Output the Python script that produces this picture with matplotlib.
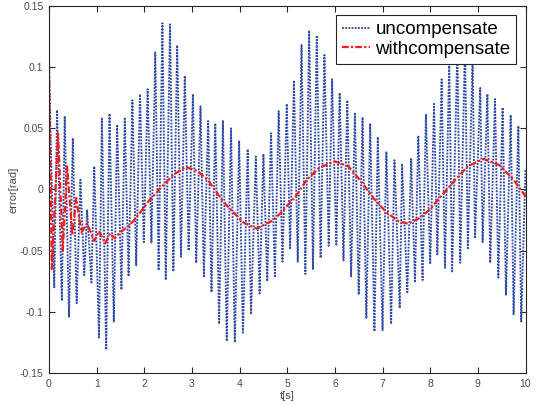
import numpy as np
import matplotlib
matplotlib.use("Agg")
import matplotlib.pyplot as plt

# ---- data ----
# uncompensated error: upper and lower turning points (time [s], value [rad])
unc_up_t = [0.00, 0.17, 0.33, 0.50, 0.66, 0.80, 0.95, 1.11, 1.27, 1.43, 1.59, 1.75, 1.91, 2.07,
            2.23, 2.38, 2.54, 2.69, 2.85, 3.02, 3.18, 3.34, 3.49, 3.65, 3.82, 3.99, 4.17, 4.34,
            4.50, 4.66, 4.82, 4.99, 5.14, 5.30, 5.46, 5.62, 5.78, 5.94, 6.10, 6.26, 6.42, 6.58,
            6.74, 6.90, 7.08, 7.25, 7.41, 7.60, 7.75, 7.91, 8.08, 8.24, 8.40, 8.57, 8.73, 8.89,
            9.05, 9.20, 9.36, 9.52, 9.69, 9.85, 10.00]
unc_up_v = [0.100, 0.065, 0.060, 0.042, 0.008, -0.017, 0.019, 0.058, 0.062, 0.053, 0.058, 0.073,
            0.078, 0.082, 0.112, 0.136, 0.135, 0.118, 0.093, 0.078, 0.068, 0.056, 0.054, 0.056,
            0.050, 0.040, 0.033, 0.027, 0.029, 0.046, 0.064, 0.070, 0.089, 0.118, 0.130, 0.126,
            0.110, 0.090, 0.079, 0.073, 0.062, 0.059, 0.054, 0.043, 0.031, 0.024, 0.021, 0.025,
            0.044, 0.061, 0.070, 0.090, 0.105, 0.115, 0.118, 0.108, 0.083, 0.078, 0.074, 0.067,
            0.061, 0.052, 0.017]
unc_lo_t = [0.11, 0.27, 0.42, 0.58, 0.74, 0.89, 1.05, 1.20, 1.36, 1.52, 1.67, 1.83, 1.99, 2.15,
            2.30, 2.45, 2.61, 2.77, 2.93, 3.09, 3.25, 3.41, 3.57, 3.73, 3.90, 4.07, 4.24, 4.42,
            4.58, 4.74, 4.90, 5.06, 5.22, 5.38, 5.54, 5.70, 5.87, 6.03, 6.18, 6.34, 6.50, 6.66,
            6.83, 7.00, 7.18, 7.36, 7.52, 7.68, 7.84, 8.00, 8.15, 8.31, 8.46, 8.63, 8.79, 8.94,
            9.10, 9.26, 9.43, 9.59, 9.75, 9.91]
unc_lo_v = [-0.080, -0.091, -0.104, -0.093, -0.070, -0.076, -0.121, -0.131, -0.108, -0.082,
            -0.071, -0.062, -0.043, -0.044, -0.066, -0.074, -0.067, -0.055, -0.050, -0.060,
            -0.071, -0.084, -0.110, -0.124, -0.125, -0.117, -0.102, -0.085, -0.075, -0.071,
            -0.059, -0.048, -0.059, -0.069, -0.065, -0.056, -0.046, -0.045, -0.058, -0.071,
            -0.086, -0.105, -0.116, -0.115, -0.110, -0.097, -0.084, -0.076, -0.074, -0.061,
            -0.053, -0.064, -0.067, -0.060, -0.049, -0.040, -0.043, -0.060, -0.072, -0.086,
            -0.102, -0.108]

# compensated error (time [s], value [rad])
cmp_t = [0.00, 0.06, 0.19, 0.29, 0.38, 0.49, 0.57, 0.68, 0.80, 0.95, 1.05, 1.18, 1.28, 1.38,
         1.49, 1.70, 1.91, 2.08, 2.36, 2.61, 2.87, 3.12, 3.35, 3.62, 3.73, 4.08, 4.36, 4.71,
         4.87, 5.07, 5.17, 5.41, 5.68, 6.00, 6.28, 6.52, 6.83, 7.09, 7.34, 7.54, 7.79, 8.00,
         8.17, 8.53, 8.79, 9.12, 9.45, 9.75, 9.99, 10.00]
cmp_v = [0.100, -0.065, 0.046, -0.050, 0.019, -0.037, -0.007, -0.035, -0.028, -0.042, -0.034,
         -0.044, -0.036, -0.040, -0.035, -0.029, -0.019, -0.010, 0.002, 0.012, 0.0185, 0.015,
         0.007, -0.008, -0.013, -0.027, -0.032, -0.025, -0.019, -0.010, -0.006, 0.008, 0.018,
         0.023, 0.019, 0.008, -0.008, -0.019, -0.026, -0.028, -0.023, -0.016, -0.008, 0.008,
         0.019, 0.025, 0.020, 0.008, -0.005, -0.006]

x_ticks = [0, 1, 2, 3, 4, 5, 6, 7, 8, 9, 10]
y_ticks = [-0.15, -0.1, -0.05, 0, 0.05, 0.1, 0.15]
y_tick_labels = ["-0.15", "-0.1", "-0.05", "0", "0.05", "0.1", "0.15"]

# merge turning points of the uncompensated trace in time order
unc_t = np.array(unc_up_t + unc_lo_t)
unc_v = np.array(unc_up_v + unc_lo_v)
order = np.argsort(unc_t, kind="stable")
unc_t, unc_v = unc_t[order], unc_v[order]

plt.rcParams['font.family'] = ['Liberation Sans', 'DejaVu Sans']

fig = plt.figure(figsize=(5.36, 4.05), dpi=100)
ax = fig.add_axes([49 / 536, (405 - 373) / 405, (525.5 - 49) / 536, (373 - 6) / 405])

ax.plot(unc_t, unc_v, color='#2d4aa6', lw=1.35, linestyle=(0, (1.0, 0.7)),
        label='uncompensate')
ax.plot(cmp_t, cmp_v, color='#ff1a1a', lw=1.6, linestyle=(0, (3, 1, 1, 1)),
        label='withcompensate')

ax.set_xlim(0, 10)
ax.set_ylim(-0.15, 0.15)
ax.set_xticks(x_ticks)
ax.set_yticks(y_ticks)
ax.set_yticklabels(y_tick_labels)

gray = '#4a4a4a'
ax.tick_params(direction='in', length=4, width=0.8, top=True, right=True,
               labelsize=7.5, colors=gray, pad=4)
ax.tick_params(colors='#262626', which='both', labelcolor=gray)
for s in ax.spines.values():
    s.set_color('#262626')
    s.set_linewidth(0.8)

ax.set_xlabel('t[s]', fontsize=8, color=gray, labelpad=2)
ax.set_ylabel('error[rad]', fontsize=8, color=gray, labelpad=1)

leg = ax.legend(loc='upper right', fontsize=13.5, frameon=True, fancybox=False,
                borderpad=0.3, labelspacing=0.15, handlelength=1.5, handletextpad=0.3,
                borderaxespad=0.5)
leg.get_frame().set_edgecolor('#262626')
leg.get_frame().set_linewidth(0.8)
leg.get_frame().set_alpha(1.0)

fig.savefig('out.png', dpi=100)
